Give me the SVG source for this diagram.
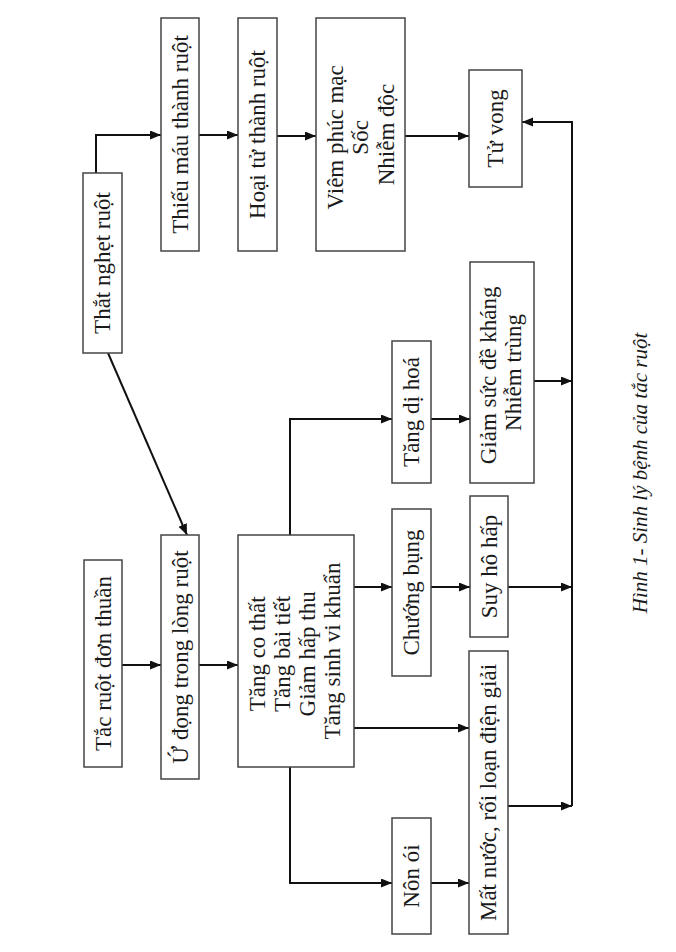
<svg xmlns="http://www.w3.org/2000/svg" width="676" height="952" viewBox="0 0 676 952">
<style>
.box{fill:#fff;stroke:#444;stroke-width:1.5}
.t{font-family:"Liberation Serif","Times New Roman",serif;font-size:23px;fill:#1a1a1a;text-anchor:middle}
.cap{font-family:"Liberation Serif","Times New Roman",serif;font-size:21px;font-style:italic;fill:#1a1a1a;text-anchor:middle}
.c{fill:none;stroke:#111;stroke-width:2}
</style>
<defs>
<marker id="ah" markerUnits="userSpaceOnUse" markerWidth="12" markerHeight="10" refX="11" refY="4.5" orient="auto">
<path d="M0,0 L11,4.5 L0,9 z" fill="#111"/>
</marker>
</defs>
<rect width="676" height="952" fill="#fff"/>
<g id="connectors">
<line class="c" x1="122" y1="665" x2="161" y2="665" marker-end="url(#ah)"/>
<line class="c" x1="199" y1="665" x2="238" y2="665" marker-end="url(#ah)"/>
<line class="c" x1="108" y1="353" x2="187" y2="535" marker-end="url(#ah)"/>
<polyline class="c" points="96,173 96,135 161,135" marker-end="url(#ah)"/>
<line class="c" x1="199" y1="135" x2="238" y2="135" marker-end="url(#ah)"/>
<line class="c" x1="277" y1="136" x2="316" y2="136" marker-end="url(#ah)"/>
<line class="c" x1="405" y1="136" x2="469" y2="136" marker-end="url(#ah)"/>
<polyline class="c" points="290,535 290,419 392,419" marker-end="url(#ah)"/>
<line class="c" x1="431" y1="419" x2="470" y2="419" marker-end="url(#ah)"/>
<line class="c" x1="354" y1="587" x2="392" y2="587" marker-end="url(#ah)"/>
<line class="c" x1="431" y1="587" x2="470" y2="587" marker-end="url(#ah)"/>
<line class="c" x1="354" y1="728" x2="469" y2="728" marker-end="url(#ah)"/>
<polyline class="c" points="290,767 290,883 392,883" marker-end="url(#ah)"/>
<line class="c" x1="431" y1="883" x2="469" y2="883" marker-end="url(#ah)"/>
<line class="c" x1="508" y1="806" x2="572" y2="806" marker-end="url(#ah)"/>
<line class="c" x1="508" y1="587" x2="572" y2="587" marker-end="url(#ah)"/>
<line class="c" x1="534" y1="381" x2="572" y2="381" marker-end="url(#ah)"/>
<polyline class="c" points="572,806 572,122 522,122" marker-end="url(#ah)"/>
</g>
<g id="n-tac">
<rect class="box" x="84" y="560" width="38" height="207"/>
<text class="t" transform="translate(103,663.5) rotate(-90)" y="7.5">Tắc ruột đơn thuần</text>
</g>
<g id="n-ud">
<rect class="box" x="161" y="535" width="38" height="244"/>
<text class="t" transform="translate(180,657) rotate(-90)" y="7.5">Ứ đọng trong lòng ruột</text>
</g>
<g id="n-tang">
<rect class="box" x="238" y="535" width="116" height="232"/>
<text class="t" transform="translate(296,651) rotate(-90)">
<tspan x="0" y="-31">Tăng co thất</tspan>
<tspan x="0" y="-6">Tăng bài tiết</tspan>
<tspan x="0" y="19">Giảm hấp thu</tspan>
<tspan x="0" y="44">Tăng sinh vi khuẩn</tspan>
</text>
</g>
<g id="n-that">
<rect class="box" x="83" y="173" width="39" height="180"/>
<text class="t" transform="translate(102.5,263) rotate(-90)" y="7.5">Thắt nghẹt ruột</text>
</g>
<g id="n-thieu">
<rect class="box" x="161" y="18" width="38" height="233"/>
<text class="t" transform="translate(180,134.5) rotate(-90)" y="7.5">Thiếu máu thành ruột</text>
</g>
<g id="n-hoai">
<rect class="box" x="238" y="18" width="39" height="233"/>
<text class="t" transform="translate(257.5,134.5) rotate(-90)" y="7.5">Hoại tử thành ruột</text>
</g>
<g id="n-viem">
<rect class="box" x="316" y="18" width="89" height="233"/>
<text class="t" transform="translate(360.5,134.5) rotate(-90)">
<tspan x="0" y="-18">Viêm phúc mạc</tspan>
<tspan x="0" y="7.5">Sốc</tspan>
<tspan x="0" y="33">Nhiễm độc</tspan>
</text>
</g>
<g id="n-tuvong">
<rect class="box" x="469" y="70" width="53" height="117"/>
<text class="t" transform="translate(495.5,128.5) rotate(-90)" y="7.5">Tử vong</text>
</g>
<g id="n-diphoa">
<rect class="box" x="392" y="341" width="39" height="142"/>
<text class="t" transform="translate(411.5,412) rotate(-90)" y="7.5">Tăng dị hoá</text>
</g>
<g id="n-giam">
<rect class="box" x="470" y="262" width="64" height="221"/>
<text class="t" transform="translate(502,372.5) rotate(-90)">
<tspan x="0" y="-6">Giảm sức đề kháng</tspan>
<tspan x="0" y="19">Nhiễm trùng</tspan>
</text>
</g>
<g id="n-chuong">
<rect class="box" x="392" y="509" width="39" height="167"/>
<text class="t" transform="translate(411.5,592.5) rotate(-90)" y="7.5">Chướng bụng</text>
</g>
<g id="n-suy">
<rect class="box" x="470" y="496" width="38" height="141"/>
<text class="t" transform="translate(489,566.5) rotate(-90)" y="7.5">Suy hô hấp</text>
</g>
<g id="n-non">
<rect class="box" x="392" y="818" width="39" height="116"/>
<text class="t" transform="translate(411.5,876) rotate(-90)" y="7.5">Nôn ói</text>
</g>
<g id="n-matnuoc">
<rect class="box" x="469" y="651" width="39" height="283"/>
<text class="t" transform="translate(488.5,792.5) rotate(-90)" y="7.5">Mất nước, rối loạn điện giải</text>
</g>
<text class="cap" transform="translate(640,473) rotate(-90)" y="7">Hình 1- Sinh lý bệnh của tắc ruột</text>
</svg>
